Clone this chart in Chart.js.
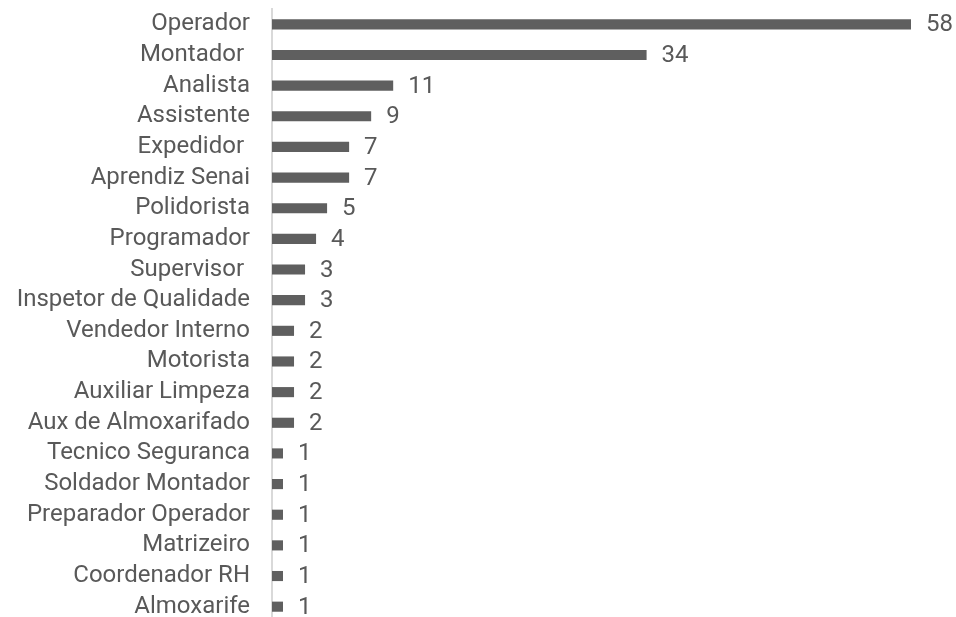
<!DOCTYPE html>
<html>
<head>
<meta charset="utf-8">
<script src="https://cdn.jsdelivr.net/npm/chart.js@4"></script>
<style>
  html, body { margin:0; padding:0; background:#fff; overflow:hidden; }
  canvas { display:block; }
</style>
</head>
<body>
<canvas id="chart" width="956" height="622"></canvas>
<script>
const labels = ['Operador','Montador ','Analista','Assistente','Expedidor ','Aprendiz Senai','Polidorista','Programador','Supervisor ','Inspetor de Qualidade','Vendedor Interno','Motorista','Auxiliar Limpeza','Aux de Almoxarifado','Tecnico Seguranca','Soldador Montador','Preparador Operador','Matrizeiro','Coordenador RH','Almoxarife'];
const values = [58,34,11,9,7,7,5,4,3,3,2,2,2,2,1,1,1,1,1,1];

const TEXT = '#595959';
const FONT_SIZE = 24;

// value labels to the right of each bar
const barLabels = {
  id:'barLabels',
  afterDatasetsDraw(c){
    const ctx = c.ctx;
    const meta = c.getDatasetMeta(0);
    ctx.save();
    ctx.font = FONT_SIZE + 'px Roboto';
    ctx.fillStyle = TEXT;
    ctx.textAlign = 'left';
    ctx.textBaseline = 'middle';
    meta.data.forEach((bar,i)=>{
      ctx.fillText(String(values[i]), bar.x + 15, bar.y + 1);
    });
    ctx.restore();
  }
};

new Chart(document.getElementById('chart'), {
  type:'bar',
  data:{ labels, datasets:[{ data: values, backgroundColor:'#5f5f5f', barPercentage:0.33, categoryPercentage:1 }] },
  options:{
    indexAxis:'y',
    responsive:false, animation:false,
    layout:{ padding:{ top:9, right:45, left:0, bottom:0 } },
    plugins:{ legend:{ display:false }, tooltip:{ enabled:false } },
    scales:{
      x:{ display:false, min:0, max:58 },
      y:{
        grid:{ display:false, drawTicks:false },
        border:{ display:true, color:'#d9d9d9', width:2 },
        ticks:{ color:TEXT, font:{ family:'Roboto', size:FONT_SIZE }, padding:22, autoSkip:false },
        afterFit(s){ s.width = 272; s.paddingTop = 0; s.paddingBottom = 0; }
      }
    }
  },
  plugins:[barLabels]
});
</script>
</body>
</html>
